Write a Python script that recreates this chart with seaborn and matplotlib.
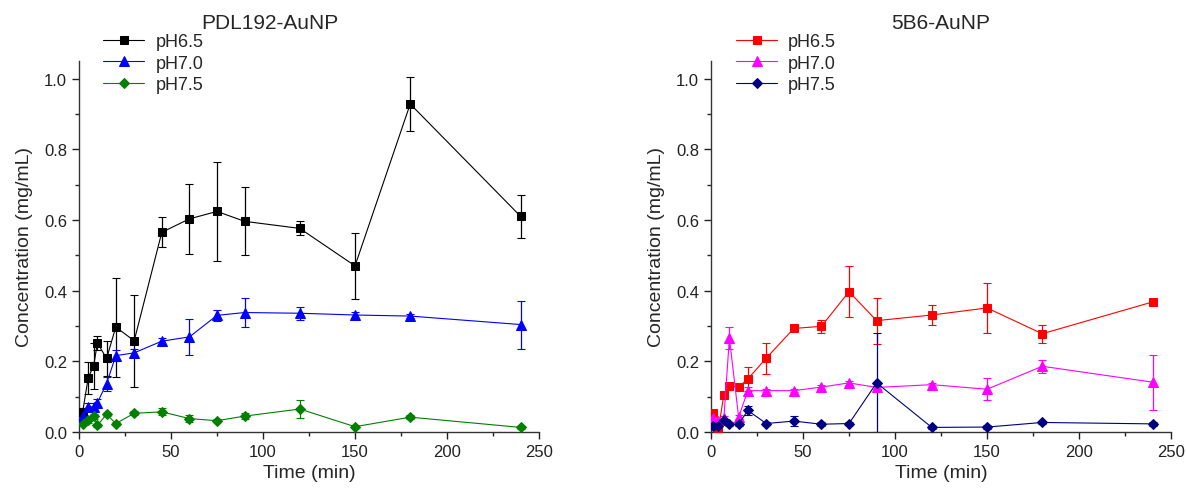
import numpy as np
import pandas as pd
import matplotlib
matplotlib.use('Agg')
import matplotlib.pyplot as plt
from matplotlib.ticker import MultipleLocator
import seaborn as sns

# time points (min)
t_pdl = [2, 5, 8, 10, 15, 20, 30, 45, 60, 75, 90, 120, 150, 180, 240]
t_5b6 = [1, 4, 7, 10, 15, 20, 30, 45, 60, 75, 90, 120, 150, 180, 240]

# PDL192-AuNP
pdl_65 = [0.057, 0.153, 0.188, 0.252, 0.208, 0.297, 0.258, 0.565, 0.603, 0.624, 0.596, 0.576, 0.470, 0.928, 0.610]
pdl_65_err = [0.01, 0.045, 0.065, 0.02, 0.05, 0.14, 0.13, 0.042, 0.10, 0.14, 0.096, 0.02, 0.094, 0.077, 0.061]
pdl_70 = [0.045, 0.071, 0.071, 0.083, 0.137, 0.216, 0.224, 0.257, 0.269, 0.330, 0.338, 0.336, 0.331, 0.328, 0.304]
pdl_70_err = [0.01, 0.01, 0.01, 0.01, 0.02, 0.015, 0.01, 0.01, 0.052, 0.016, 0.04, 0.019, 0.008, 0.005, 0.068]
pdl_75 = [0.024, 0.033, 0.044, 0.019, 0.05, 0.024, 0.053, 0.057, 0.038, 0.032, 0.045, 0.065, 0.015, 0.042, 0.013]
pdl_75_err = [0.005, 0.008, 0.008, 0.005, 0.005, 0.005, 0.006, 0.01, 0.01, 0.005, 0.008, 0.025, 0.005, 0.005, 0.005]

# 5B6-AuNP
b6_65 = [0.054, 0.007, 0.106, 0.130, 0.127, 0.150, 0.209, 0.293, 0.299, 0.397, 0.315, 0.331, 0.351, 0.278, 0.368]
b6_65_err = [0.005, 0.005, 0.01, 0.01, 0.005, 0.035, 0.044, 0.005, 0.019, 0.072, 0.065, 0.028, 0.07, 0.025, 0.005]
b6_70 = [0.04, 0.03, 0.04, 0.266, 0.042, 0.117, 0.117, 0.117, 0.127, 0.139, 0.126, 0.134, 0.121, 0.186, 0.141]
b6_70_err = [0.005, 0.005, 0.005, 0.03, 0.005, 0.01, 0.005, 0.005, 0.005, 0.005, 0.005, 0.005, 0.031, 0.018, 0.078]
b6_75 = [0.016, 0.017, 0.033, 0.022, 0.022, 0.061, 0.024, 0.031, 0.022, 0.024, 0.139, 0.013, 0.014, 0.027, 0.023]
b6_75_err = [0.005, 0.005, 0.005, 0.005, 0.005, 0.012, 0.005, 0.015, 0.005, 0.005, 0.14, 0.005, 0.005, 0.005, 0.005]

labels = ['pH6.5', 'pH7.0', 'pH7.5']
markers = ['s', '^', 'D']

sns.set_style('ticks')
plt.rcParams['font.family'] = ['Liberation Sans', 'DejaVu Sans']

fig = plt.figure(figsize=(11.86, 4.89), dpi=100)
ax1 = fig.add_axes([0.0666, 0.1145, 0.3879, 0.759])
ax2 = fig.add_axes([0.5995, 0.1145, 0.3879, 0.759])

panels = [
    (ax1, t_pdl, [pdl_65, pdl_70, pdl_75], [pdl_65_err, pdl_70_err, pdl_75_err],
     ['black', '#0000ff', '#008000'], 'PDL192-AuNP', 0.415, 0.0868),
    (ax2, t_5b6, [b6_65, b6_70, b6_75], [b6_65_err, b6_70_err, b6_75_err],
     ['#ff0000', '#ff00ff', '#000080'], '5B6-AuNP', 0.50, 0.6205),
]

for ax, t, ys, errs, cols, title, tx, lx in panels:
    for y, e, c, m, lab in zip(ys, errs, cols, markers, labels):
        df = pd.DataFrame({'Time': t, 'Conc': y})
        ax.errorbar(t, y, yerr=e, fmt='none', ecolor=c, elinewidth=0.9,
                    capsize=3, capthick=0.8, zorder=2)
        ms = {'s': 5.5, '^': 6.5, 'D': 5}[m]
        sns.lineplot(data=df, x='Time', y='Conc', ax=ax, color=c, marker=m,
                     markersize=ms, markeredgecolor=c, linewidth=0.8,
                     estimator=None, label=lab, zorder=3)
    ax.set_xlim(0, 250)
    ax.set_ylim(0, 1.05)
    ax.xaxis.set_major_locator(MultipleLocator(50))
    ax.xaxis.set_minor_locator(MultipleLocator(25))
    ax.yaxis.set_major_locator(MultipleLocator(0.2))
    ax.yaxis.set_minor_locator(MultipleLocator(0.1))
    ax.yaxis.set_major_formatter(matplotlib.ticker.FormatStrFormatter('%.1f'))
    ax.tick_params(which='major', direction='out', length=5, width=1, labelsize=12, colors='#222222')
    ax.tick_params(which='minor', direction='out', length=3, width=1)
    ax.set_xlabel('Time (min)', fontsize=14)
    ax.set_ylabel('Concentration (mg/mL)', fontsize=14, labelpad=8)
    for s in ['left', 'bottom']:
        ax.spines[s].set_color('#333333')
        ax.spines[s].set_linewidth(1)
    sns.despine(ax=ax)
    ax.set_title(title, fontsize=15, x=tx, y=1.0, pad=24)
    ax.legend(loc='upper left', bbox_to_anchor=(lx, 0.93), bbox_transform=fig.transFigure,
              frameon=False, fontsize=13, handlelength=2.3, handletextpad=0.6,
              labelspacing=0.25, borderpad=0, borderaxespad=0)

fig.savefig('out.png', dpi=100)
